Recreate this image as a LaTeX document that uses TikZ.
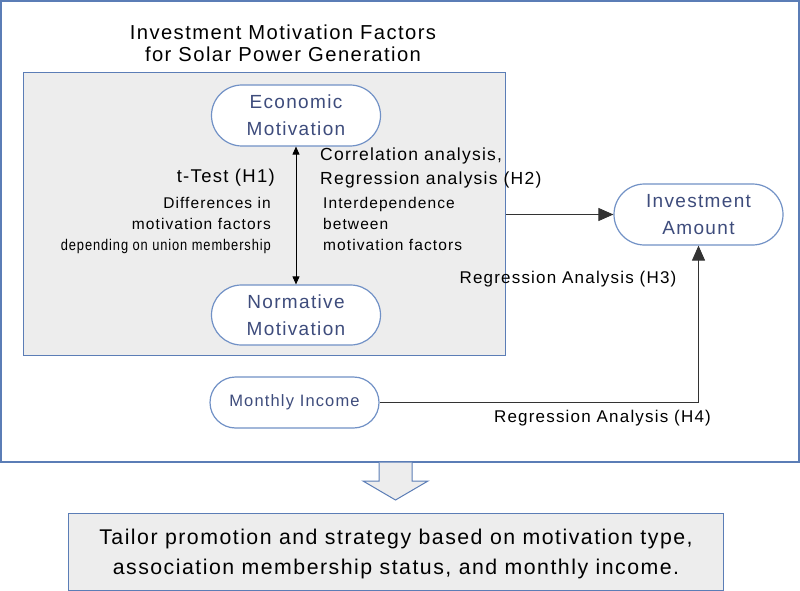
\documentclass[tikz,border=0pt]{standalone}
\usepackage{fontspec}
\setmainfont{Liberation Sans}[LetterSpace=7]
\usetikzlibrary{arrows.meta,shapes.misc}
\definecolor{frameblue}{HTML}{5B7DB6}
\definecolor{nodeblue}{HTML}{7191C6}
\definecolor{nodetext}{HTML}{3E4C7C}
\definecolor{boxgray}{HTML}{EDEDED}
\tikzset{
  motiv/.style={rounded rectangle, draw=nodeblue, line width=1.2pt, fill=white, text=nodetext,
    minimum width=169pt, inner sep=0pt, align=center, font=\fontsize{19}{27}\selectfont},
  lbl/.style={inner sep=0pt, text=black, font=\fontsize{16}{21}\selectfont},
  bigarrow/.style={-{Triangle[length=15pt,width=13pt]}, line width=0.9pt, draw=black!80},
  dblarrow/.style={{Triangle[length=8pt,width=7pt]}-{Triangle[length=8pt,width=7pt]}, line width=0.9pt}
}
\begin{document}
\begin{tikzpicture}[x=1pt,y=-1pt]
\useasboundingbox (0,0) rectangle (800,591);
\fill[white] (0,0) rectangle (800,591);
% outer frame
\draw[frameblue, line width=1.2pt] (1,1) rectangle (799,462);
% gray group box
\node[draw=frameblue, fill=boxgray, line width=1pt, minimum width=482pt, minimum height=283pt, inner sep=0pt, anchor=north west] (grp) at (23,72) {};
% title
\node[lbl, font=\fontsize{20.2}{22}\selectfont, align=center] (title) at (283,43) {Investment Motivation Factors\\for Solar Power Generation};
% motivation nodes
\node[motiv, minimum height=61pt] (eco) at (296,115.5) {Economic\\Motivation};
\node[motiv, minimum height=60pt] (norm) at (296,315) {Normative\\Motivation};
\node[motiv, minimum height=61pt] (inv) at (698.5,214.5) {Investment\\Amount};
\node[motiv, minimum height=51pt, font=\fontsize{16.5}{20}\selectfont] (mon) at (294.5,402.5) {Monthly Income};
% H1
\draw[dblarrow] (eco.south) -- (norm.north);
\node[lbl, anchor=east, font=\fontsize{18.5}{20}\selectfont] (h1) at (275,178) {t-Test (H1)};
\node[lbl, anchor=north east, align=right, font=\fontsize{15.5}{21}\selectfont] (h1d) at (271,197) {Differences in\\motivation factors\\\scalebox{0.83}[1]{depending on union membership}};
% H2
\node[lbl, anchor=north west, align=left, font=\fontsize{17.5}{24}\selectfont] (h2) at (320,148) {Correlation analysis,\\Regression analysis (H2)};
\node[lbl, anchor=north west, align=left, font=\fontsize{15.5}{21}\selectfont] (h2d) at (323,197) {Interdependence\\between\\motivation factors};
\draw[bigarrow] (inv.west -| grp.east) -- (inv.west);
% H3 / H4
\draw[bigarrow] (mon.east) -- (mon.east -| inv.south) -- (inv.south);
\node[lbl, font=\fontsize{17}{20}\selectfont] (h3) at (568,279) {Regression Analysis (H3)};
\node[lbl, font=\fontsize{17}{20}\selectfont] (h4) at (602.5,418) {Regression Analysis (H4)};
% block arrow
\draw[frameblue, fill=boxgray, line width=1pt, line join=miter] (379,462.6) -- (379,481) -- (363,481) -- (395.5,500) -- (428,481) -- (412,481) -- (412,462.6);
% bottom box
\node[draw=frameblue, fill=boxgray, line width=1pt, minimum width=655pt, minimum height=77pt, inner sep=0pt, anchor=north west] (res) at (68,513) {};
\node[lbl, align=center, font=\fontsize{21.3}{30}\selectfont] (restext) at ([yshift=-2pt]res.center) {Tailor promotion and strategy based on motivation type,\\association membership status, and monthly income.};
\end{tikzpicture}
\end{document}
